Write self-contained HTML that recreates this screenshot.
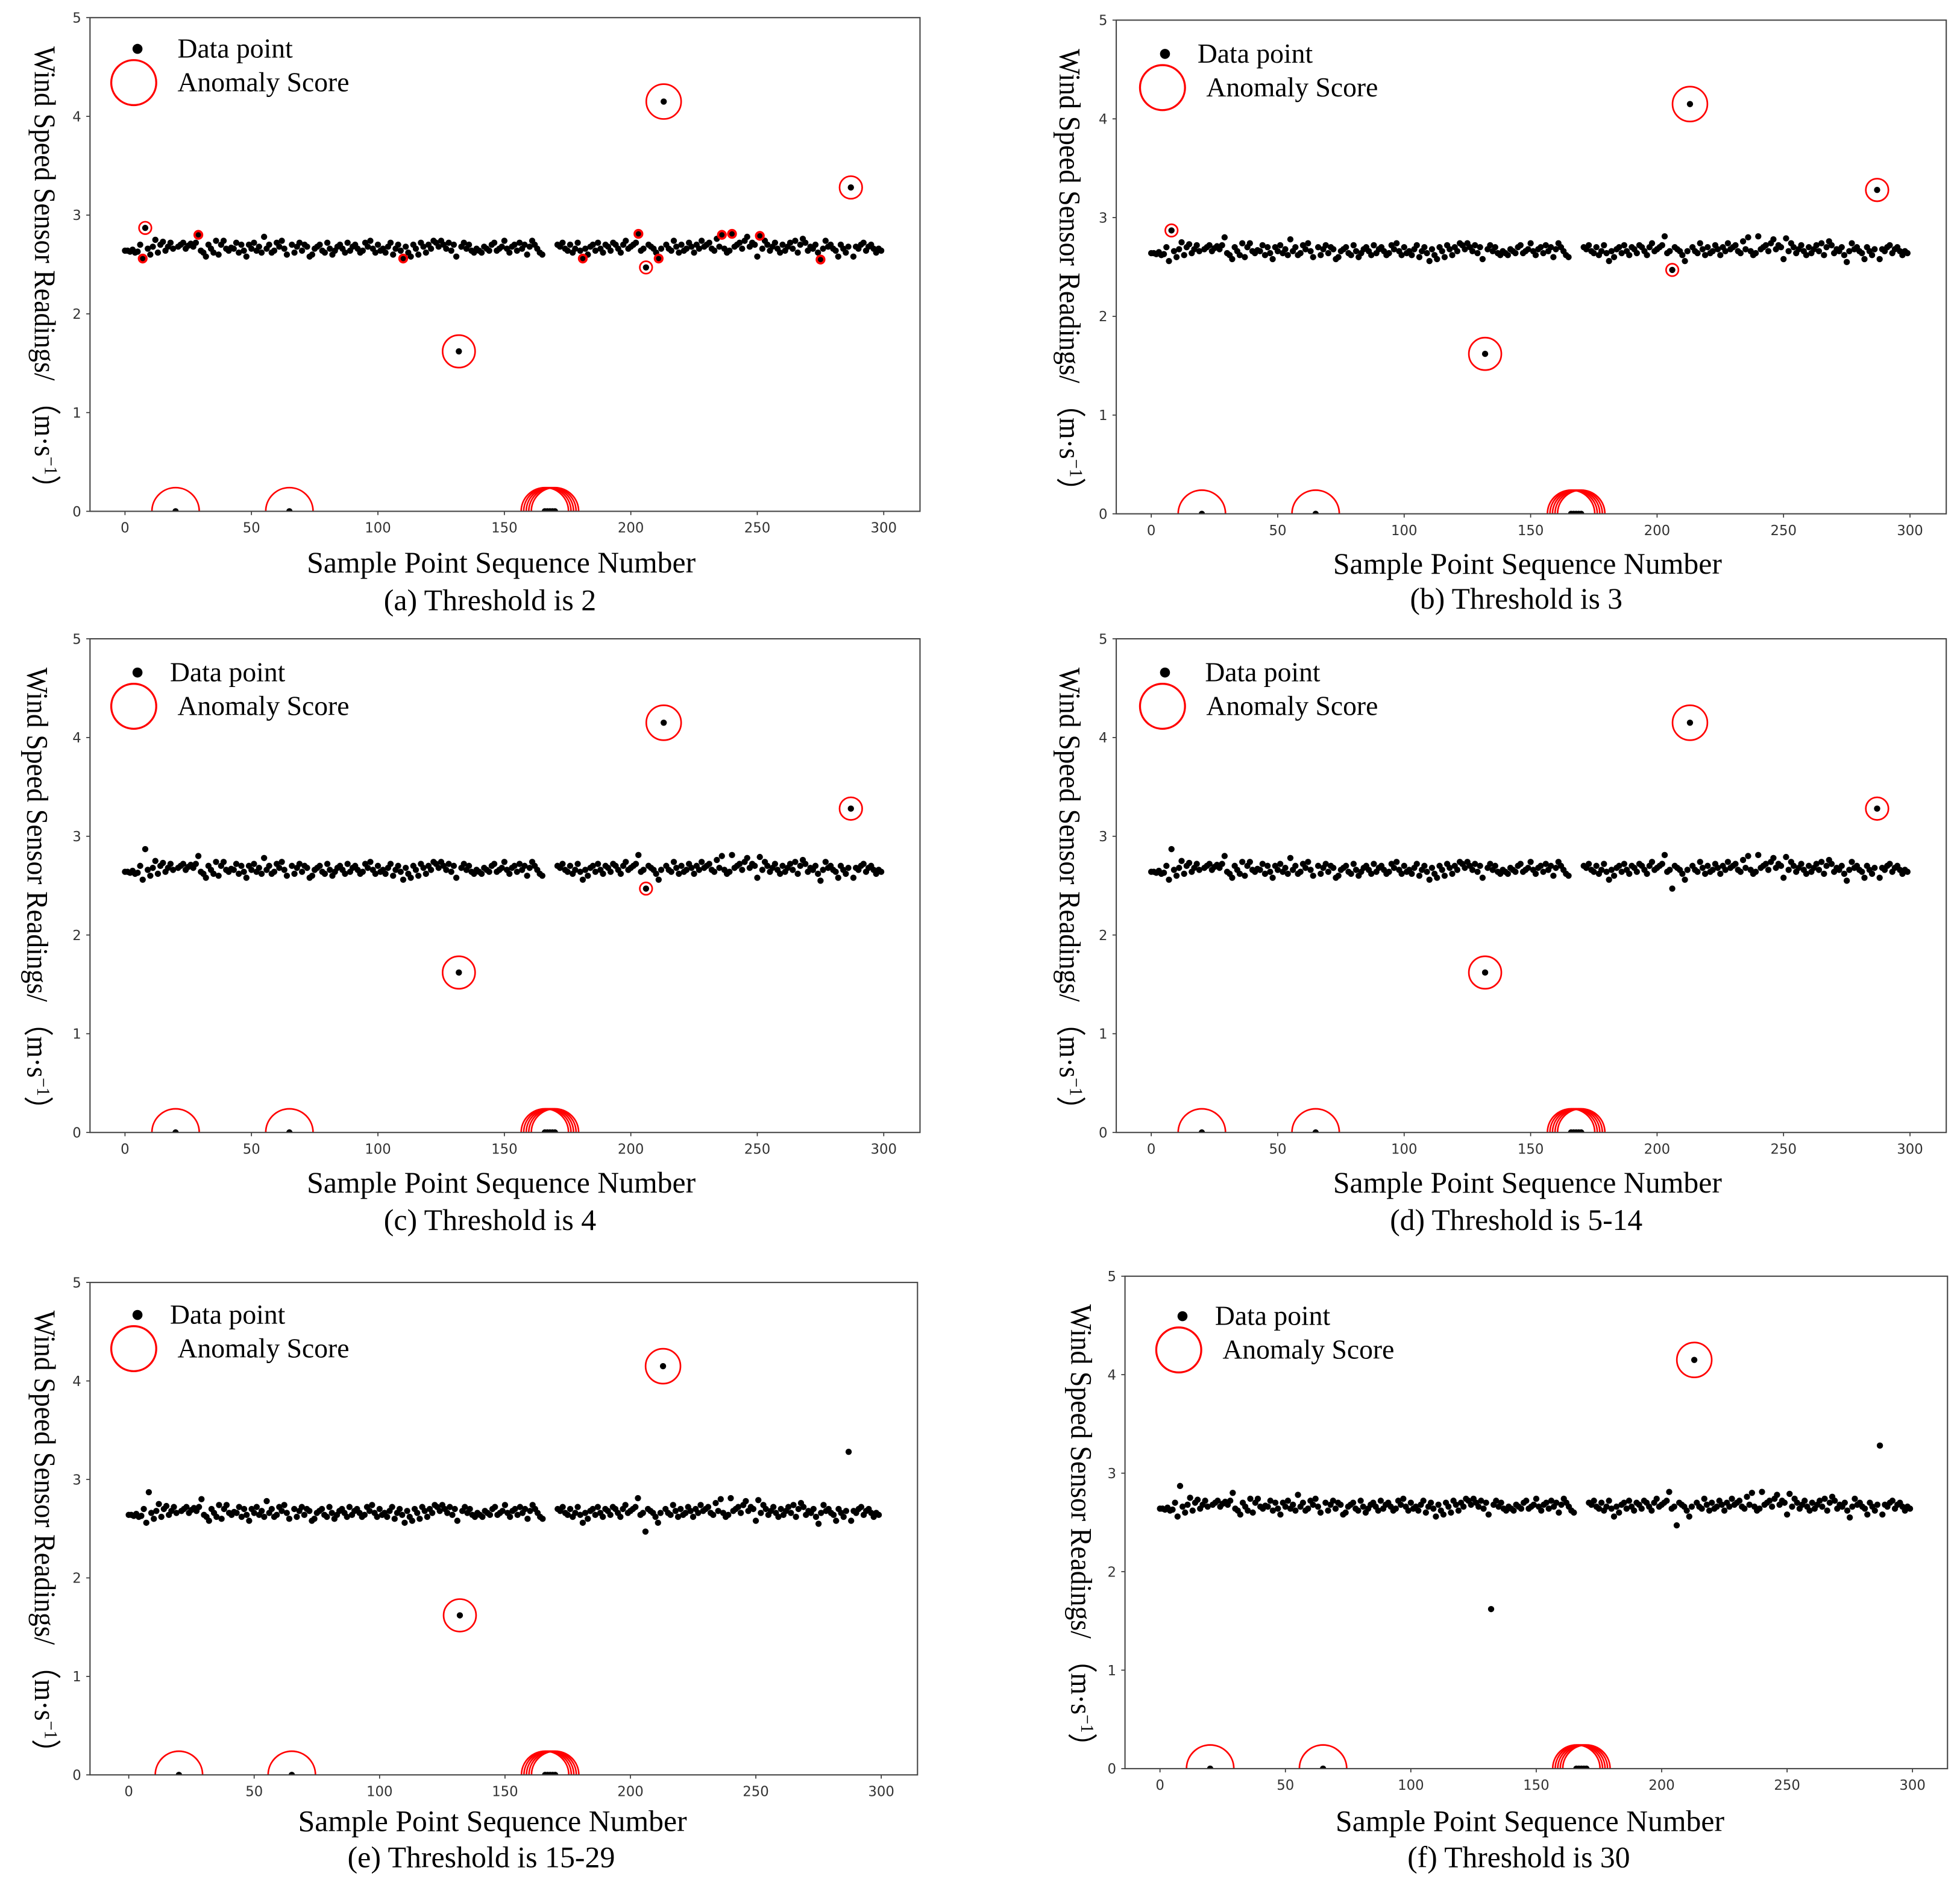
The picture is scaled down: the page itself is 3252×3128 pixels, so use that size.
<!DOCTYPE html>
<html><head><meta charset="utf-8"><style>
html,body{margin:0;padding:0;background:#fff;}
svg{display:block;}
.tick{font-family:"DejaVu Sans",sans-serif;font-size:11px;fill:#333;}
.lab{font-family:"Liberation Serif",serif;font-size:24px;fill:#000;}
.leg{font-family:"Liberation Serif",serif;font-size:22px;fill:#000;}
</style></head><body>
<svg id="fig" width="3252" height="3128" viewBox="0 0 1568 1508" xmlns="http://www.w3.org/2000/svg">
<rect width="1568" height="1508" fill="#fff"/>
</svg>
<script>
const values = [
2.64,2.64,2.63,2.65,2.62,2.63,2.70,2.56,2.87,2.66,2.60,2.68,2.75,2.62,2.70,2.73,2.64,2.68,2.72,2.66,
0,2.68,2.70,2.72,2.66,2.69,2.71,2.68,2.72,2.80,2.64,2.62,2.58,2.70,2.66,2.62,2.74,2.60,2.70,2.74,
2.66,2.64,2.67,2.66,2.72,2.62,2.70,2.64,2.58,2.70,2.66,2.72,2.64,2.68,2.62,2.78,2.66,2.70,2.62,2.64,
2.72,2.68,2.74,2.66,2.60,0,2.70,2.62,2.68,2.72,2.64,2.70,2.68,2.58,2.60,2.66,2.68,2.70,2.64,2.62,
2.72,2.66,2.60,2.64,2.68,2.70,2.66,2.62,2.72,2.64,2.68,2.70,2.66,2.62,2.64,2.72,2.68,2.74,2.66,2.62,
2.70,2.64,2.66,2.62,2.68,2.72,2.60,2.66,2.70,2.64,2.56,2.68,2.62,2.58,2.70,2.66,2.60,2.72,2.68,2.62,
2.70,2.66,2.74,2.72,2.68,2.74,2.70,2.66,2.72,2.64,2.70,2.58,1.62,2.68,2.72,2.66,2.70,2.64,2.62,2.66,
2.64,2.62,2.68,2.66,2.64,2.70,2.72,2.64,2.66,2.68,2.74,2.66,2.62,2.68,2.70,2.64,2.72,2.66,2.70,2.60,
2.68,2.74,2.70,2.66,2.62,2.60,0,0,0,0,0,2.70,2.68,2.72,2.66,2.64,2.70,2.62,2.66,2.72,
2.64,2.56,2.66,2.60,2.68,2.70,2.64,2.72,2.66,2.62,2.70,2.68,2.64,2.72,2.70,2.66,2.62,2.70,2.74,2.66,
2.68,2.70,2.72,2.81,2.64,2.66,2.47,2.70,2.68,2.66,2.62,2.56,2.66,4.15,2.70,2.66,2.64,2.74,2.68,2.62,
2.70,2.64,2.66,2.72,2.68,2.62,2.70,2.66,2.74,2.68,2.70,2.72,2.66,2.64,2.76,2.68,2.80,2.66,2.62,2.64,
2.81,2.68,2.70,2.72,2.66,2.74,2.78,2.68,2.72,2.70,2.58,2.79,2.66,2.74,2.70,2.64,2.68,2.72,2.66,2.62,
2.70,2.64,2.68,2.72,2.66,2.74,2.62,2.70,2.76,2.72,2.64,2.68,2.66,2.70,2.62,2.55,2.66,2.74,2.68,2.70,
2.66,2.64,2.58,2.70,2.66,2.62,2.68,3.28,2.58,2.68,2.66,2.70,2.72,2.64,2.68,2.70,2.66,2.62,2.66,2.64];
const anomalyIdx   = [20,65,166,167,168,169,170,213,132,287,8,206,7,29,110,181,203,211,236,240,251,275];
const anomalyScore = [35,35,35,35,35,35,35,19,16.5,8,2.4,2.4,0.9,0.9,0.9,0.9,0.9,0.9,0.9,0.9,0.9,0.9];
const anomalyLevel = [99,99,99,99,99,99,99,99,29,14,3,4,2,2,2,2,2,2,2,2,2,2];
const panelLevels  = [2,3,4,5,15,30];
const xTicks = [0,50,100,150,200,250,300];
const yTicks = [0,1,2,3,4,5];
const captions = ["(a) Threshold is 2","(b) Threshold is 3","(c) Threshold is 4","(d) Threshold is 5-14","(e) Threshold is 15-29","(f) Threshold is 30"];
const captionWidths = [170,170,170,202,214,178];

const layouts = [
 {L:72,R:736,T:14,B:409,x0:100,x3:707,yl:28,xc:401,xl:450,cp:480,ld:[110,39,142],lc:[107,66,142]},
 {L:893,R:1557,T:16,B:411,x0:921,x3:1528,yl:848,xc:1222,xl:451,cp:479,ld:[932,43,958],lc:[930,70,965]},
 {L:72,R:736,T:511,B:906,x0:100,x3:707,yl:22,xc:401,xl:946,cp:976,ld:[110,538,136],lc:[107,565,142]},
 {L:893,R:1557,T:511,B:906,x0:921,x3:1528,yl:848,xc:1222,xl:946,cp:976,ld:[932,538,964],lc:[930,565,965]},
 {L:72,R:734,T:1026,B:1420,x0:103,x3:705,yl:28,xc:394,xl:1457,cp:1486,ld:[110,1052,136],lc:[107,1079,142]},
 {L:900,R:1558,T:1021,B:1415,x0:928,x3:1530,yl:857,xc:1224,xl:1457,cp:1486,ld:[946,1053,972],lc:[943,1080,978]}];

const NS="http://www.w3.org/2000/svg";
const svg=document.getElementById('fig');
function mk(tag,attrs,parent){const e=document.createElementNS(NS,tag);for(const k in attrs)e.setAttribute(k,attrs[k]);(parent||svg).appendChild(e);return e;}

layouts.forEach((p,pi)=>{
  const g=mk('g',{});
  
  
  const xs=v=>p.x0+(p.x3-p.x0)*v/300;
  const ys=v=>p.B-(p.B-p.T)*v/5;
  const cid='clip'+pi;
  const cp=mk('clipPath',{id:cid},g);
  mk('rect',{x:p.L,y:p.T,width:p.R-p.L,height:p.B-p.T},cp);
  xTicks.forEach(t=>{
    mk('line',{x1:xs(t),x2:xs(t),y1:p.B,y2:p.B+3,stroke:'#333','stroke-width':0.8},g);
    const tx=mk('text',{x:xs(t),y:p.B+17,'text-anchor':'middle',class:'tick'},g);
    tx.textContent=t;
    
    
  });
  yTicks.forEach(t=>{
    mk('line',{x1:p.L-3,x2:p.L,y1:ys(t),y2:ys(t),stroke:'#333','stroke-width':0.8},g);
    const tx=mk('text',{x:p.L-7,y:ys(t)+4,'text-anchor':'end',class:'tick'},g);
    tx.textContent=t;
    
    
  });
  const pg=mk('g',{'clip-path':'url(#'+cid+')'},g);
  
  
  values.forEach((v,i)=>{
    const c=mk('circle',{cx:xs(i),cy:ys(v),r:2.5,fill:'#000'},pg);
    
    
  });
  const ag=mk('g',{'clip-path':'url(#'+cid+')'},g);
  
  
  anomalyIdx.forEach((idx,k)=>{
    if(anomalyLevel[k]<panelLevels[pi])return;
    const r=3.2*Math.sqrt(anomalyScore[k]);
    const c=mk('circle',{cx:xs(idx),cy:ys(values[idx]),r:r,fill:'none',stroke:'#f00','stroke-width':r<4?1.8:1.3},ag);
    
    
  });
  const fr=mk('rect',{x:p.L,y:p.T,width:p.R-p.L,height:p.B-p.T,fill:'none',stroke:'#444','stroke-width':1},g);
  
  
  const lg=mk('g',{},g);
  
  
  mk('circle',{cx:p.ld[0],cy:p.ld[1],r:4,fill:'#000'},lg);
  let t=mk('text',{x:p.ld[2],y:p.ld[1]+7,class:'leg'},lg);t.textContent='Data point';
  
  
  mk('circle',{cx:p.lc[0],cy:p.lc[1],r:18,fill:'none',stroke:'#f00','stroke-width':1.6},lg);
  t=mk('text',{x:p.lc[2],y:p.lc[1]+7,class:'leg'},lg);t.textContent='Anomaly Score';
  
  
  const yc=(p.T+p.B)/2+8;
  t=mk('text',{x:p.yl,y:yc,class:'lab','text-anchor':'middle',transform:'rotate(90 '+p.yl+' '+yc+')','font-size':'22',textLength:365,lengthAdjust:'spacingAndGlyphs'},g);
  t.innerHTML='Wind Speed Sensor Readings/ （m·s<tspan dy="-8" font-size="15">−1</tspan><tspan dy="8">）</tspan>';
  
  
  t=mk('text',{x:p.xc,y:p.xl+8,class:'lab','text-anchor':'middle',textLength:311,lengthAdjust:'spacingAndGlyphs'},g);t.textContent='Sample Point Sequence Number';
  
  
  t=mk('text',{x:p.xc-9,y:p.cp+8,class:'lab','text-anchor':'middle',textLength:captionWidths[pi],lengthAdjust:'spacingAndGlyphs'},g);t.textContent=captions[pi];
  
  
});
</script>
</body></html>
